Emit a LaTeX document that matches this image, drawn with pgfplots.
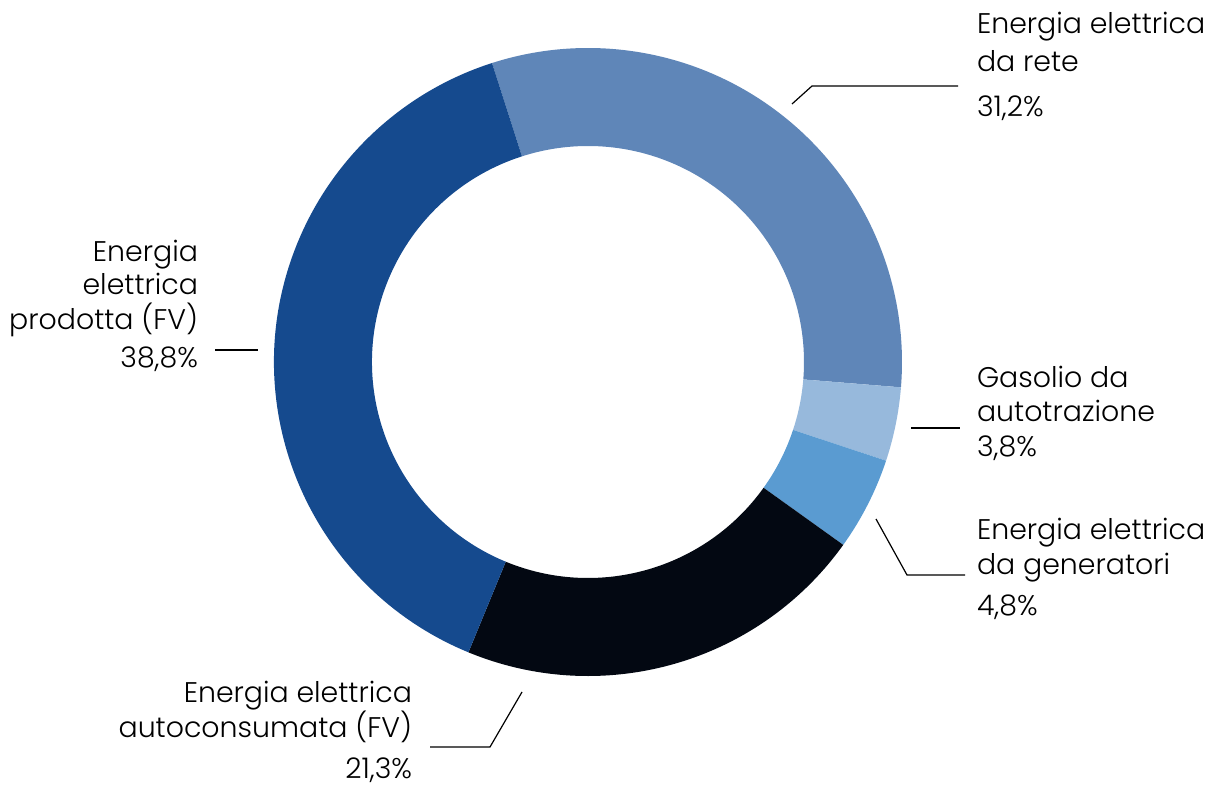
\documentclass[border=0pt]{standalone}
\usepackage{fontspec}
\setmainfont{Poppins}[UprightFont=* Light]
\usepackage{pgfplots}
\usepackage{pgfplotstable}
\pgfplotsset{compat=1.18}
\definecolor{cRete}{HTML}{5F86B8}
\definecolor{cGas}{HTML}{97B9DC}
\definecolor{cGen}{HTML}{5A9BD1}
\definecolor{cAuto}{HTML}{030812}
\definecolor{cProd}{HTML}{154A8E}
\pgfplotstableread{
name value
rete 31.2
gasolio 3.8
generatori 4.8
autoconsumata 21.3
prodotta 38.8
}\shares
\newcommand\seg[3]{\fill[#1] (axis cs:588,425) ++(#2:157pt) arc[start angle=#2,end angle=#3,radius=157pt] -- ++({#3+180}:49pt) arc[start angle=#3,end angle=#2,radius=108pt] -- cycle;}
\tikzset{lbl/.style={font=\fontsize{14.2pt}{17pt}\selectfont,inner sep=0pt,outer sep=0pt}}
\begin{document}
\begin{tikzpicture}
\pgfplotstablegetelem{0}{value}\of\shares\let\vA\pgfplotsretval
\pgfplotstablegetelem{1}{value}\of\shares\let\vB\pgfplotsretval
\pgfplotstablegetelem{2}{value}\of\shares\let\vC\pgfplotsretval
\pgfplotstablegetelem{3}{value}\of\shares\let\vD\pgfplotsretval
\pgfplotstablegetelem{4}{value}\of\shares\let\vE\pgfplotsretval
\pgfmathsetmacro\tot{\vA+\vB+\vC+\vD+\vE}
\pgfmathsetmacro\aA{107.8}
\pgfmathsetmacro\aB{\aA-360*\vA/\tot}
\pgfmathsetmacro\aC{\aB-360*\vB/\tot}
\pgfmathsetmacro\aD{\aC-360*\vC/\tot}
\pgfmathsetmacro\aE{\aD-360*\vD/\tot}
\pgfmathsetmacro\aF{\aA-360}
\path[use as bounding box] (0,0) rectangle (608pt,393.5pt);
\begin{axis}[x=0.5pt,y=0.5pt,xmin=0,xmax=1216,ymin=0,ymax=787,hide axis,clip=false]
\seg{cRete}{\aA}{\aB}
\seg{cGas}{\aB}{\aC}
\seg{cGen}{\aC}{\aD}
\seg{cAuto}{\aD}{\aE}
\seg{cProd}{\aE}{\aF}
% leader lines
\draw[line width=0.6pt] (axis cs:792,683) -- (axis cs:812,701) -- (axis cs:958,701);
\draw[line width=0.6pt] (axis cs:215,437) -- (axis cs:258,437);
\draw[line width=0.6pt] (axis cs:911,359) -- (axis cs:960,359);
\draw[line width=0.6pt] (axis cs:876,268) -- (axis cs:907,212) -- (axis cs:965,212);
\draw[line width=0.6pt] (axis cs:522,95) -- (axis cs:490,40) -- (axis cs:430,40);
% labels
\node[lbl,anchor=base west] at (axis cs:977,753) {Energia elettrica};
\node[lbl,anchor=base west] at (axis cs:977,715) {da rete};
\node[lbl,anchor=base west] at (axis cs:977,670) {31,2\%};
\node[lbl,anchor=base west] at (axis cs:977,399) {Gasolio da};
\node[lbl,anchor=base west] at (axis cs:977,365) {autotrazione};
\node[lbl,anchor=base west] at (axis cs:977,330) {3,8\%};
\node[lbl,anchor=base west] at (axis cs:977,247) {Energia elettrica};
\node[lbl,anchor=base west] at (axis cs:977,212) {da generatori};
\node[lbl,anchor=base west] at (axis cs:977,171) {4,8\%};
\node[lbl,anchor=base east] at (axis cs:198,525) {Energia};
\node[lbl,anchor=base east] at (axis cs:198,492) {elettrica};
\node[lbl,anchor=base east] at (axis cs:198,457) {prodotta (FV)};
\node[lbl,anchor=base east] at (axis cs:198,419) {38,8\%};
\node[lbl,anchor=base east] at (axis cs:412,84) {Energia elettrica};
\node[lbl,anchor=base east] at (axis cs:412,49) {autoconsumata (FV)};
\node[lbl,anchor=base east] at (axis cs:412,8) {21,3\%};
\end{axis}
\end{tikzpicture}
\end{document}
